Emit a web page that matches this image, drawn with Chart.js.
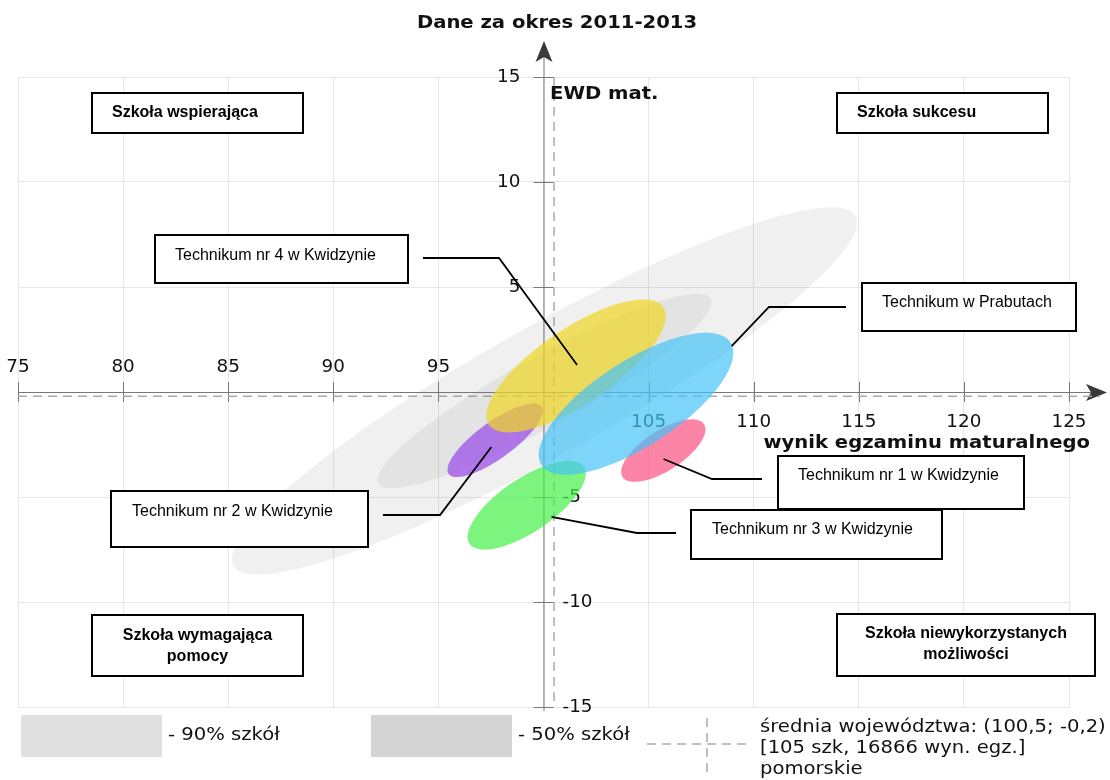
<!DOCTYPE html>
<html>
<head>
<meta charset="utf-8">
<script src="https://cdn.jsdelivr.net/npm/chart.js@4.4.1/dist/chart.umd.min.js"></script>
<style>
body { margin: 0; background: #fff; }
#wrap { width: 1110px; height: 780px; }
</style>
</head>
<body>
<div id="wrap"><canvas id="ewdChart"></canvas></div>
<script>
// szkoly - w kolejnosci rysowania
var szkoly = ['Technikum nr 2 w Kwidzynie', 'Technikum nr 3 w Kwidzynie', 'Technikum nr 1 w Kwidzynie', 'Technikum nr 4 w Kwidzynie', 'Technikum w Prabutach'];
var wynikMat = [97.7, 99.2, 105.7, 101.55, 104.4];
var ewdMat = [-2.3, -5.39, -2.79, 1.24, -0.56];
var osDluga = [2.73, 3.28, 2.31, 5.0, 5.36];
var osKrotka = [0.87, 1.27, 0.95, 1.79, 2.03];
var nachylenie = [36, 34, 33, 34, 33];

// tlo wojewodztwa (90% i 50% szkol)
var tloNazwy = ['- 90% szkół', '- 50% szkół'];
var tloWynik = [100.05, 100.05];
var tloEwd = [0.05, 0.05];
var tloOsDluga = [16.98, 9.04];
var tloOsKrotka = [3.04, 1.65];
var tloNachylenie = [29.4, 29.1];

// srednia wojewodztwa
var sredniaWynik = 100.5;
var sredniaEwd = -0.2;
var opisSredniej = ['średnia województwa: (100,5; -0,2)', '[105 szk, 16866 wyn. egz.]', 'pomorskie'];

var ticksX = [75, 80, 85, 90, 95, 105, 110, 115, 120, 125];
var ticksY = [15, 10, 5, -5, -10, -15];

var kolory = ['rgba(150,70,230,0.7)', 'rgba(70,240,70,0.7)', 'rgba(250,80,130,0.7)', 'rgba(240,215,40,0.72)', 'rgba(70,195,248,0.7)'];
var tloKolory = ['rgba(128,128,128,0.12)', 'rgba(128,128,128,0.12)'];
var legendaKolory = ['#e0e0e0', '#d4d4d4'];

// koncowki linii opisow (w jednostkach wykresu)
var koniecLinii = [[97.52, -2.62], [100.38, -5.95], [105.71, -3.19], [101.6, 1.29], [108.95, 2.19]];

var dejavu = '"DejaVu Sans", sans-serif';
var arial = '"Liberation Sans", Arial, sans-serif';

var ramki = [
    { t: ['Szkoła wspierająca'], x: 92, y: 93, w: 211, h: 40, bold: true, tx: 112, ty: 113 },
    { t: ['Szkoła sukcesu'], x: 837, y: 93, w: 211, h: 40, bold: true, tx: 857, ty: 113 },
    { t: ['Szkoła wymagająca', 'pomocy'], x: 92, y: 615, w: 211, h: 61, bold: true, center: true, ty: 636 },
    { t: ['Szkoła niewykorzystanych', 'możliwości'], x: 837, y: 614, w: 258, h: 62, bold: true, center: true, ty: 634 },
    { t: [szkoly[3]], x: 155, y: 235, w: 253, h: 48, tx: 175, ty: 256 },
    { t: [szkoly[4]], x: 862, y: 283, w: 214, h: 48, tx: 882, ty: 303 },
    { t: [szkoly[0]], x: 111, y: 491, w: 257, h: 56, tx: 132, ty: 512 },
    { t: [szkoly[1]], x: 691, y: 510, w: 251, h: 49, tx: 712, ty: 530 },
    { t: [szkoly[2]], x: 778, y: 456, w: 246, h: 53, tx: 798, ty: 476 }
];
var linie = [
    [[383, 515], [440, 515]],
    [[676, 533], [637, 533]],
    [[762, 479], [712, 479]],
    [[423, 258], [499, 258]],
    [[846, 307], [769, 307]]
];

function elipsa(ctx, sx, sy, cx, cy, a, b, kat) {
    var t = kat * Math.PI / 180;
    ctx.beginPath();
    for (var i = 0; i <= 144; i++) {
        var u = i / 144 * 2 * Math.PI;
        var dx = a * Math.cos(u) * Math.cos(t) - b * Math.sin(u) * Math.sin(t);
        var dy = a * Math.cos(u) * Math.sin(t) + b * Math.sin(u) * Math.cos(t);
        var px = sx.getPixelForValue(cx + dx), py = sy.getPixelForValue(cy + dy);
        if (i === 0) ctx.moveTo(px, py); else ctx.lineTo(px, py);
    }
    ctx.closePath();
    ctx.fill();
}

// tekst lekko rozciagniety w poziomie (jak w oryginale)
function napis(ctx, s, x, y, rozciag) {
    ctx.save();
    ctx.translate(x, y);
    ctx.scale(rozciag, 1);
    ctx.fillText(s, 0, 0);
    ctx.restore();
}

var osiePlugin = {
    id: 'osie',
    beforeDatasetsDraw: function (chart) {
        var ctx = chart.ctx, sx = chart.scales.x, sy = chart.scales.y;
        var x0 = sx.getPixelForValue(100), y0 = sy.getPixelForValue(0);
        var left = chart.chartArea.left, bottom = chart.chartArea.bottom, top = chart.chartArea.top;
        ctx.save();
        // osie
        ctx.strokeStyle = '#777';
        ctx.lineWidth = 1;
        ctx.beginPath();
        ctx.moveTo(left, y0 + 0.5); ctx.lineTo(1100, y0 + 0.5);
        ctx.moveTo(x0 + 0.5, bottom + 4); ctx.lineTo(x0 + 0.5, 50);
        ctx.stroke();
        // znaczniki
        ctx.beginPath();
        ticksX.forEach(function (v) {
            var p = Math.round(sx.getPixelForValue(v)) + 0.5;
            ctx.moveTo(p, y0 - 10); ctx.lineTo(p, y0 + 10);
        });
        ticksY.forEach(function (v) {
            var p = Math.round(sy.getPixelForValue(v)) + 0.5;
            ctx.moveTo(x0 - 10, p); ctx.lineTo(x0 + 10, p);
        });
        ctx.stroke();
        // strzalki
        ctx.fillStyle = '#3a3a3a';
        ctx.beginPath();
        ctx.moveTo(x0 + 0.5, 41); ctx.lineTo(x0 - 8, 62); ctx.lineTo(x0 + 0.5, 57); ctx.lineTo(x0 + 9, 62);
        ctx.closePath(); ctx.fill();
        ctx.beginPath();
        ctx.moveTo(1107, y0 + 0.5); ctx.lineTo(1086, y0 - 8); ctx.lineTo(1091, y0 + 0.5); ctx.lineTo(1086, y0 + 9);
        ctx.closePath(); ctx.fill();
        // etykiety osi
        ctx.fillStyle = '#111';
        ctx.font = '17.5px ' + dejavu;
        ctx.textAlign = 'center';
        ctx.textBaseline = 'middle';
        ticksX.forEach(function (v) {
            var p = sx.getPixelForValue(v);
            napis(ctx, String(v), p, v < 100 ? y0 - 25 : y0 + 30, 1.05);
        });
        ticksY.forEach(function (v) {
            var p = sy.getPixelForValue(v);
            if (v > 0) { ctx.textAlign = 'right'; napis(ctx, String(v), x0 - 23, p, 1.05); }
            else { ctx.textAlign = 'left'; napis(ctx, String(v), x0 + 19, p, 1.05); }
        });
        // srednia - linie przerywane
        ctx.strokeStyle = '#aaa';
        ctx.lineWidth = 1.5;
        ctx.setLineDash([9, 6]);
        var mx = sx.getPixelForValue(sredniaWynik), my = sy.getPixelForValue(sredniaEwd);
        ctx.beginPath();
        ctx.moveTo(left, my); ctx.lineTo(1100, my);
        ctx.moveTo(mx, top); ctx.lineTo(mx, bottom);
        ctx.stroke();
        ctx.setLineDash([]);
        // elipsy tla
        for (var i = 0; i < tloWynik.length; i++) {
            ctx.fillStyle = tloKolory[i];
            elipsa(ctx, sx, sy, tloWynik[i], tloEwd[i], tloOsDluga[i], tloOsKrotka[i], tloNachylenie[i]);
        }
        // elipsy szkol
        chart.data.datasets.forEach(function (ds, k) {
            var d = ds.data[0];
            ctx.fillStyle = kolory[k];
            elipsa(ctx, sx, sy, d.x, d.y, osDluga[k], osKrotka[k], nachylenie[k]);
        });
        ctx.restore();
    },
    afterDraw: function (chart) {
        var ctx = chart.ctx, sx = chart.scales.x, sy = chart.scales.y;
        ctx.save();
        // linie opisow
        ctx.strokeStyle = '#000';
        ctx.lineWidth = 1.8;
        linie.forEach(function (pts, k) {
            ctx.beginPath();
            ctx.moveTo(pts[0][0], pts[0][1]);
            ctx.lineTo(pts[1][0], pts[1][1]);
            ctx.lineTo(sx.getPixelForValue(koniecLinii[k][0]), sy.getPixelForValue(koniecLinii[k][1]));
            ctx.stroke();
        });
        // ramki
        ctx.textBaseline = 'middle';
        ramki.forEach(function (r) {
            ctx.fillStyle = '#fff';
            ctx.fillRect(r.x, r.y, r.w, r.h);
            ctx.strokeStyle = '#000';
            ctx.lineWidth = 2;
            ctx.strokeRect(r.x, r.y, r.w, r.h);
            ctx.fillStyle = '#000';
            ctx.font = (r.bold ? 'bold ' : '') + '16px ' + arial;
            r.t.forEach(function (s, j) {
                if (r.center) { ctx.textAlign = 'center'; ctx.fillText(s, r.x + r.w / 2, r.ty + j * 21); }
                else { ctx.textAlign = 'left'; ctx.fillText(s, r.tx, r.ty); }
            });
        });
        // tytuly
        ctx.fillStyle = '#111';
        ctx.font = 'bold 17.5px ' + dejavu;
        ctx.textAlign = 'center';
        napis(ctx, 'Dane za okres 2011-2013', 557, 23, 1.12);
        ctx.textAlign = 'left';
        napis(ctx, 'EWD mat.', 550, 94, 1.12);
        ctx.textAlign = 'right';
        napis(ctx, 'wynik egzaminu maturalnego', 1090, 443, 1.12);
        // legenda
        ctx.fillStyle = legendaKolory[0];
        ctx.fillRect(21, 715, 141, 42);
        ctx.fillStyle = legendaKolory[1];
        ctx.fillRect(371, 715, 141, 42);
        ctx.fillStyle = '#111';
        ctx.font = '17.5px ' + dejavu;
        ctx.textAlign = 'left';
        napis(ctx, tloNazwy[0], 168, 735, 1.12);
        napis(ctx, tloNazwy[1], 518, 735, 1.12);
        ctx.strokeStyle = '#aaa';
        ctx.lineWidth = 1.5;
        ctx.setLineDash([9, 6]);
        ctx.beginPath();
        ctx.moveTo(647, 744); ctx.lineTo(752, 744);
        ctx.moveTo(707, 718); ctx.lineTo(707, 772);
        ctx.stroke();
        ctx.setLineDash([]);
        var wiersze = [727, 748, 769];
        opisSredniej.forEach(function (s, j) {
            napis(ctx, s, 760, wiersze[j], 1.12);
        });
        ctx.restore();
    }
};

var datasets = szkoly.map(function (n, i) {
    return { label: n, data: [{ x: wynikMat[i], y: ewdMat[i] }], pointRadius: 0, backgroundColor: kolory[i] };
});

new Chart(document.getElementById('ewdChart'), {
    type: 'scatter',
    data: { datasets: datasets },
    options: {
        responsive: true,
        maintainAspectRatio: false,
        animation: false,
        layout: { padding: { left: 18, right: 41, top: 77, bottom: 73 } },
        plugins: { legend: { display: false }, tooltip: { enabled: false }, title: { display: false } },
        scales: {
            x: {
                type: 'linear', min: 75, max: 125,
                ticks: { display: false, stepSize: 5 },
                grid: { color: '#e6e6e6', drawTicks: false },
                border: { display: false }
            },
            y: {
                type: 'linear', min: -15, max: 15,
                ticks: { display: false, stepSize: 5 },
                grid: { color: '#e6e6e6', drawTicks: false },
                border: { display: false }
            }
        }
    },
    plugins: [osiePlugin]
});
</script>
</body>
</html>
